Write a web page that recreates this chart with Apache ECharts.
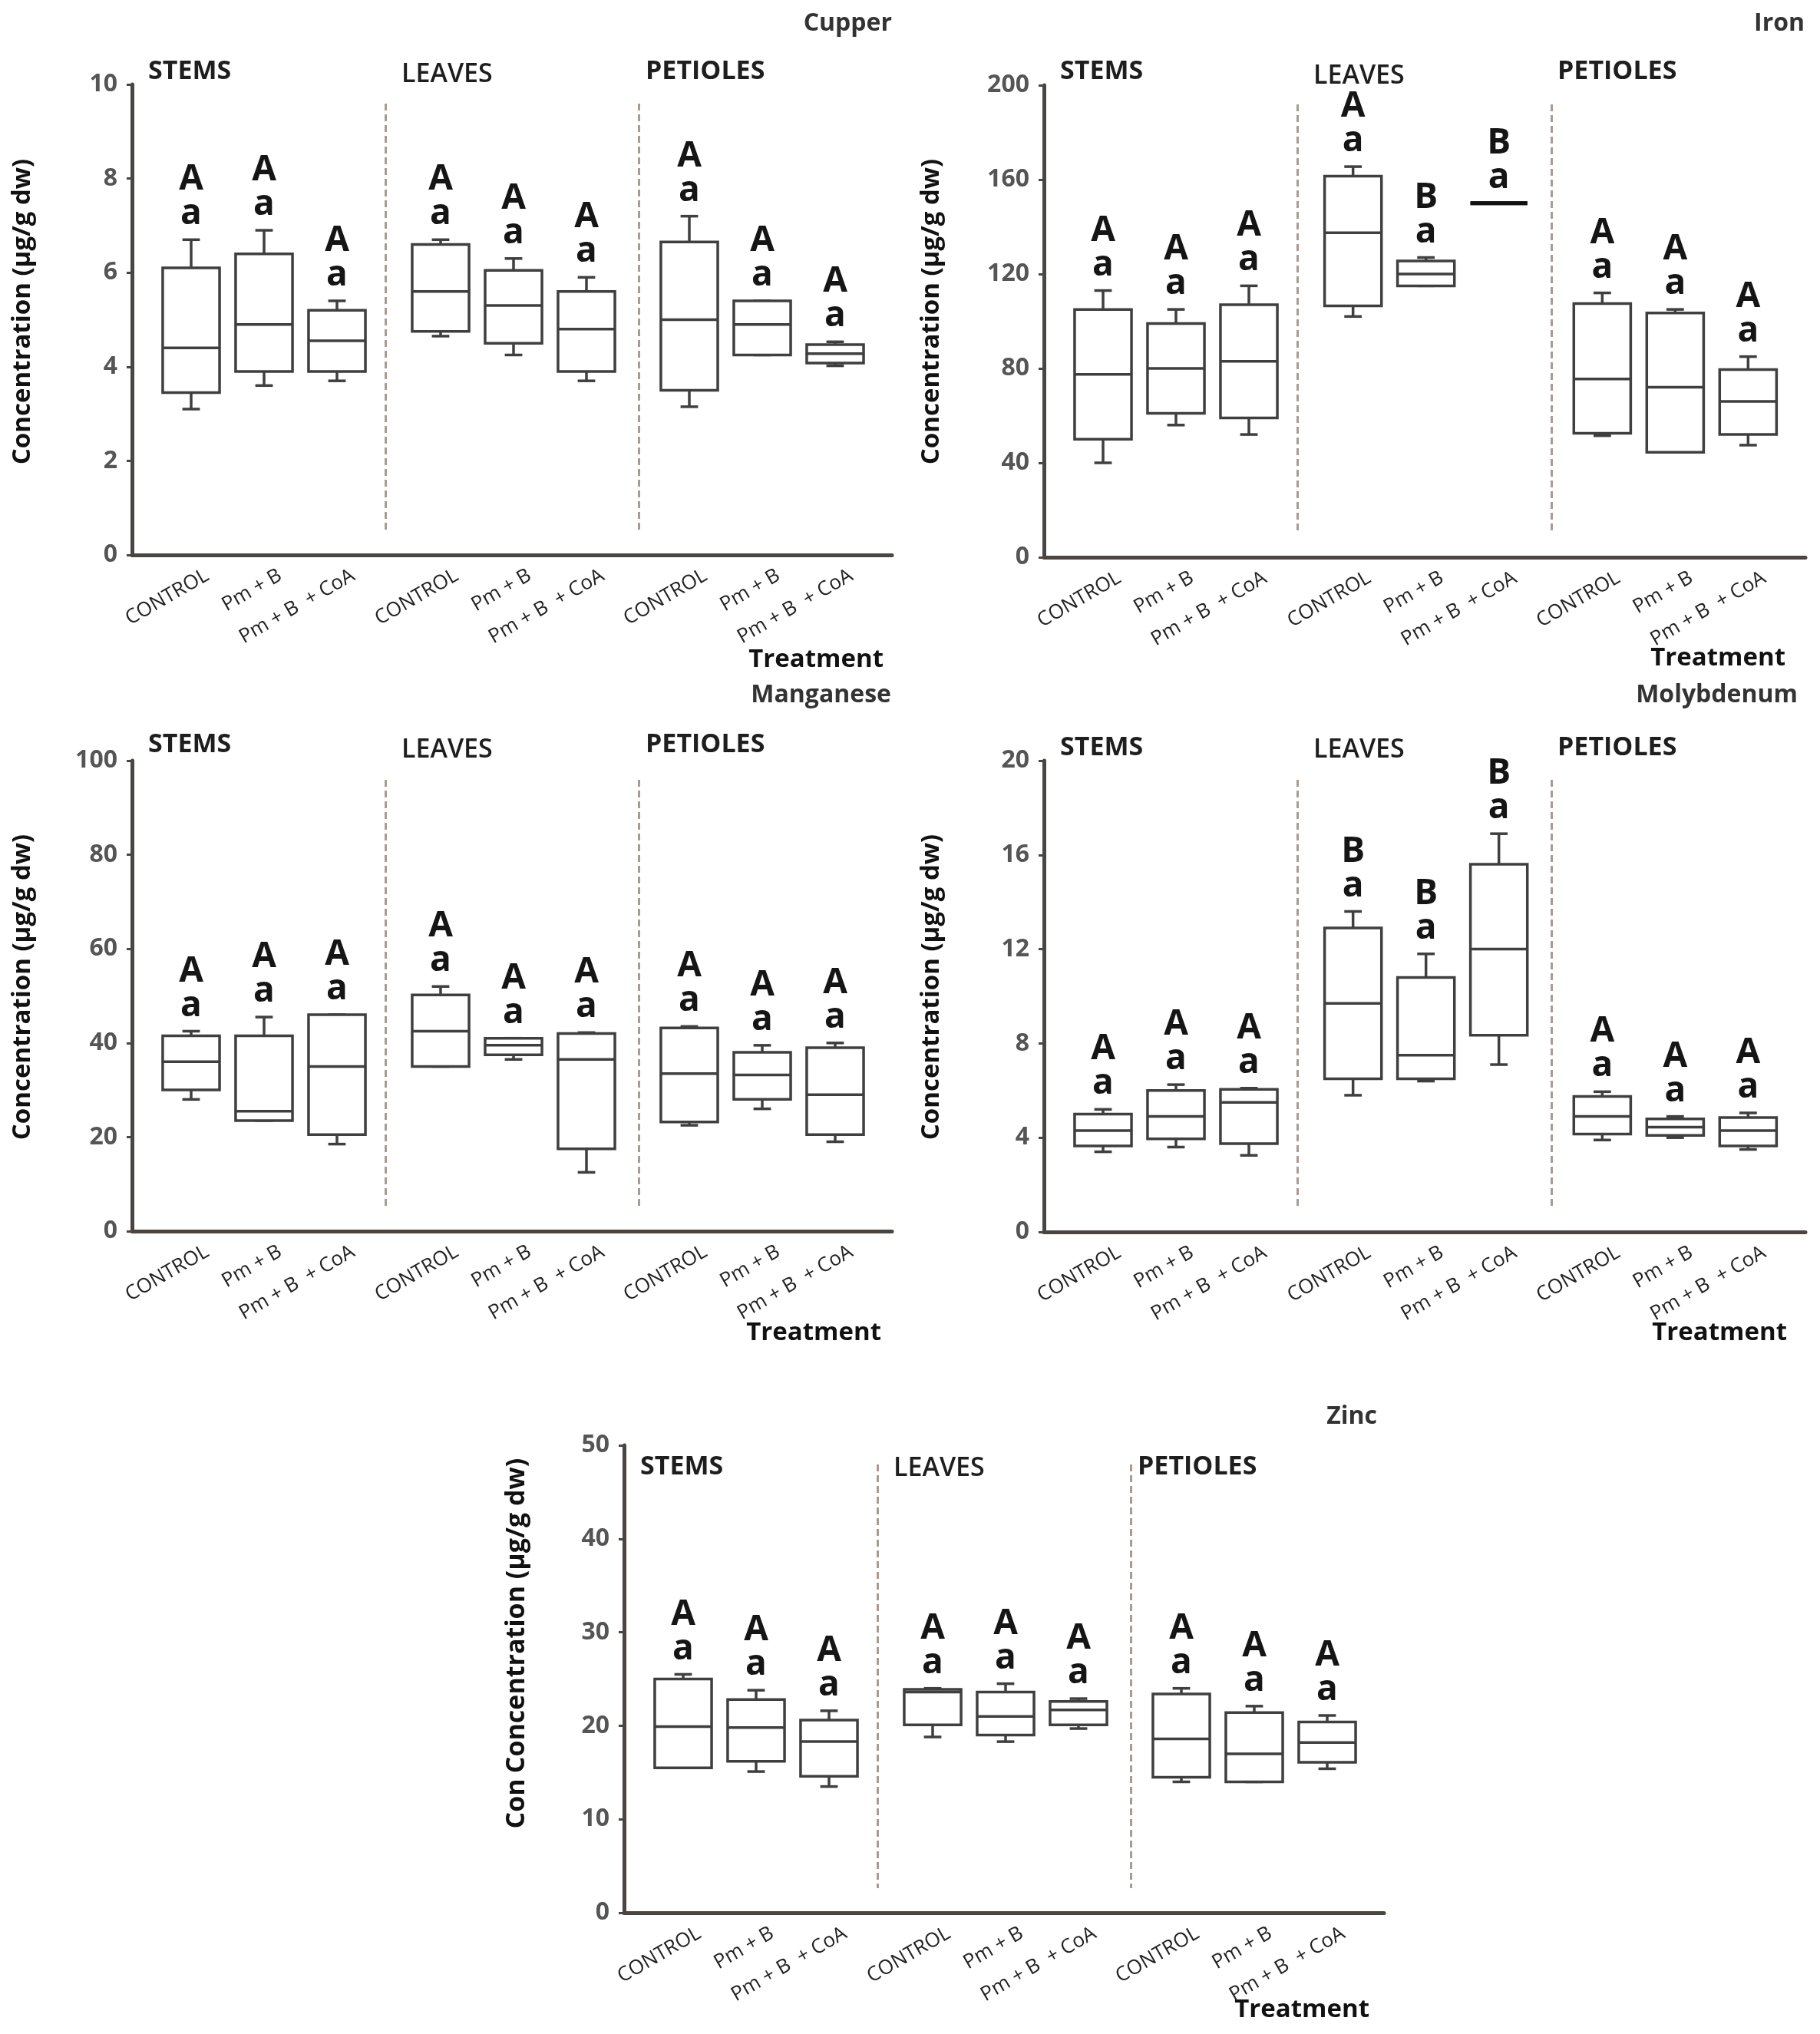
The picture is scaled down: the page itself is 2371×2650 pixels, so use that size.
<!DOCTYPE html>
<html><head><meta charset="utf-8">
<script src="https://cdn.jsdelivr.net/npm/echarts@6/dist/echarts.min.js"></script>
<style>html,body{margin:0;padding:0;background:#fff}#c{width:2371px;height:2650px}</style>
</head><body><div id="c"></div>
<script>
// ---------------- DATA ----------------
const organs = ['STEMS', 'LEAVES', 'PETIOLES'];
const treatments = ['CONTROL', 'Pm + B', 'Pm + B  + CoA'];
const panelTitles = ['Cupper', 'Iron', 'Manganese', 'Molybdenum', 'Zinc'];

// each box: [min, Q1, median, Q3, max]
const cuStems    = [[3.1, 3.45, 4.4, 6.1, 6.7], [3.6, 3.9, 4.9, 6.4, 6.9], [3.7, 3.9, 4.55, 5.2, 5.4]];
const cuLeaves   = [[4.65, 4.75, 5.6, 6.6, 6.7], [4.25, 4.5, 5.3, 6.05, 6.3], [3.7, 3.9, 4.8, 5.6, 5.9]];
const cuPetioles = [[3.15, 3.5, 5.0, 6.65, 7.2], [4.25, 4.25, 4.9, 5.4, 5.4], [4.02, 4.08, 4.28, 4.47, 4.53]];

const feStems    = [[40, 50, 77.5, 105, 113], [56, 61, 80, 99, 105], [52, 59, 83, 107, 115]];
const feLeaves   = [[102, 106.5, 137.5, 161.5, 165.5], [115, 115, 120, 125.5, 127], [150, 150, 150, 150, 150]];
const fePetioles = [[51.5, 52.5, 75.5, 107.5, 112], [44.5, 44.5, 72, 103.5, 105], [47.5, 52, 66, 79.5, 85]];

const mnStems    = [[28, 30, 36, 41.5, 42.5], [23.5, 23.5, 25.5, 41.5, 45.5], [18.5, 20.5, 35, 46, 46]];
const mnLeaves   = [[35, 35, 42.5, 50.2, 52], [36.5, 37.5, 39.5, 41, 41], [12.5, 17.5, 36.5, 42, 42.2]];
const mnPetioles = [[22.5, 23.2, 33.5, 43.2, 43.5], [26, 28, 33.2, 38, 39.5], [19, 20.5, 29, 39, 40]];

const moStems    = [[3.4, 3.65, 4.3, 5.0, 5.2], [3.6, 3.95, 4.9, 6.0, 6.25], [3.25, 3.75, 5.5, 6.05, 6.1]];
const moLeaves   = [[5.8, 6.5, 9.7, 12.9, 13.6], [6.4, 6.5, 7.5, 10.8, 11.8], [7.1, 8.35, 12, 15.6, 16.9]];
const moPetioles = [[3.9, 4.15, 4.9, 5.75, 5.95], [4.0, 4.1, 4.45, 4.8, 4.9], [3.5, 3.65, 4.3, 4.85, 5.05]];

const znStems    = [[15.5, 15.5, 19.9, 25, 25.5], [15.1, 16.2, 19.8, 22.8, 23.8], [13.5, 14.6, 18.3, 20.6, 21.6]];
const znLeaves   = [[18.8, 20.1, 23.6, 23.9, 24], [18.3, 19, 21, 23.6, 24.5], [19.7, 20.1, 21.7, 22.6, 22.9]];
const znPetioles = [[14, 14.5, 18.6, 23.4, 24], [14, 14, 17, 21.4, 22.1], [15.4, 16.1, 18.2, 20.4, 21.1]];

// significance letters (upper line / lower line), per organ
const cuUpper = [['A', 'A', 'A'], ['A', 'A', 'A'], ['A', 'A', 'A']];
const feUpper = [['A', 'A', 'A'], ['A', 'B', 'B'], ['A', 'A', 'A']];
const mnUpper = [['A', 'A', 'A'], ['A', 'A', 'A'], ['A', 'A', 'A']];
const moUpper = [['A', 'A', 'A'], ['B', 'B', 'B'], ['A', 'A', 'A']];
const znUpper = [['A', 'A', 'A'], ['A', 'A', 'A'], ['A', 'A', 'A']];
const allLower = [['a', 'a', 'a'], ['a', 'a', 'a'], ['a', 'a', 'a']];

// y-axis tick labels
const cuTicks = [0, 2, 4, 6, 8, 10];
const feTicks = [0, 40, 80, 120, 160, 200];
const mnTicks = [0, 20, 40, 60, 80, 100];
const moTicks = [0, 4, 8, 12, 16, 20];
const znTicks = [0, 10, 20, 30, 40, 50];

// ---------------- LAYOUT ----------------
const FONT = '"Open Sans", "Noto Sans", sans-serif';
const AXIS_COLOR = '#4a4540';
const BOX_COLOR = '#3f3f3f';
const panels = [
  { title: panelTitles[0], data: [cuStems, cuLeaves, cuPetioles], upper: cuUpper, ticks: cuTicks,
    x0: 172, T: 110, B: 723, W: 990, titleX: 1162, titleY: 31, secY: [93, 97, 93],
    treatX: 1151, treatY: 860, nameX: 30, nameY: 406 },
  { title: panelTitles[1], data: [feStems, feLeaves, fePetioles], upper: feUpper, ticks: feTicks,
    x0: 1360, T: 111, B: 726, W: 992, titleX: 2351, titleY: 31, secY: [93, 99, 93],
    treatX: 2326, treatY: 858, nameX: 1214, nameY: 406 },
  { title: panelTitles[2], data: [mnStems, mnLeaves, mnPetioles], upper: mnUpper, ticks: mnTicks,
    x0: 172, T: 991, B: 1604, W: 990, titleX: 1161, titleY: 906, secY: [970, 977, 970],
    treatX: 1148, treatY: 1737, nameX: 30, nameY: 1286 },
  { title: panelTitles[3], data: [moStems, moLeaves, moPetioles], upper: moUpper, ticks: moTicks,
    x0: 1360, T: 991, B: 1605, W: 992, titleX: 2342, titleY: 906, secY: [974, 977, 974],
    treatX: 2328, treatY: 1737, nameX: 1214, nameY: 1286 },
  { title: panelTitles[4], data: [znStems, znLeaves, znPetioles], upper: znUpper, ticks: znTicks,
    x0: 813, T: 1883, B: 2492, W: 990, titleX: 1794, titleY: 1846, secY: [1911, 1913, 1911],
    treatX: 1784, treatY: 2619, nameX: 673, nameY: 2105, zinc: true }
];
const BAND = 95;
const FIRST_CENTER = [77, 72, 66];
const SEC_X = [21, 351, 669];

function makeRender(upper, lower) {
  return function (params, api) {
    const c = api.value(0);
    const p = [1, 2, 3, 4, 5].map(i => api.coord([c, api.value(i)]));
    const band = api.size([1, 0])[0];
    const x = p[0][0];
    const hw = band * 0.39, cw = band * 0.12;
    const st = { stroke: BOX_COLOR, lineWidth: 3.5, fill: null };
    const idx = params.dataIndex;
    const flat = (p[1][1] - p[3][1]) < 1;
    return {
      type: 'group',
      children: [
        { type: 'line', shape: { x1: x, y1: p[4][1], x2: x, y2: p[3][1] }, style: st },
        { type: 'line', shape: { x1: x, y1: p[1][1], x2: x, y2: p[0][1] }, style: st },
        { type: 'line', shape: { x1: x - cw, y1: p[4][1], x2: x + cw, y2: p[4][1] }, style: st },
        { type: 'line', shape: { x1: x - cw, y1: p[0][1], x2: x + cw, y2: p[0][1] }, style: st },
        { type: 'rect', shape: { x: x - hw, y: p[3][1], width: 2 * hw, height: p[1][1] - p[3][1] },
          style: { stroke: flat ? '#111' : BOX_COLOR, lineWidth: flat ? 5 : 3.5, fill: '#fff' } },
        { type: 'line', shape: { x1: x - hw, y1: p[2][1], x2: x + hw, y2: p[2][1] },
          style: { stroke: flat ? '#111' : BOX_COLOR, lineWidth: flat ? 5 : 3.5 } },
        { type: 'text', style: { text: upper[idx], x: x, y: p[4][1] - 78, align: 'center', verticalAlign: 'middle',
          font: 'bold 46px ' + FONT, fill: '#151515' } },
        { type: 'text', style: { text: lower[idx], x: x, y: p[4][1] - 33, align: 'center', verticalAlign: 'middle',
          font: 'bold 46px ' + FONT, fill: '#151515' } }
      ]
    };
  };
}

const grid = [], xAxis = [], yAxis = [], series = [], graphic = [];

panels.forEach(pn => {
  const H = pn.B - pn.T;
  const ymin = pn.ticks[0], ymax = pn.ticks[pn.ticks.length - 1];
  const interval = pn.ticks[1] - pn.ticks[0];

  // frame grid with visible axes
  const fi = grid.length;
  grid.push({ left: pn.x0, top: pn.T, width: pn.W, height: H });
  xAxis.push({ gridIndex: fi, type: 'value', min: 0, max: 3,
    axisLine: { show: true, lineStyle: { color: AXIS_COLOR, width: 5 } },
    axisTick: { show: false }, axisLabel: { show: false }, splitLine: { show: false } });
  yAxis.push({ gridIndex: fi, type: 'value', min: ymin, max: ymax, interval: interval,
    axisLine: { show: true, lineStyle: { color: AXIS_COLOR, width: 5 } },
    axisTick: { show: true, length: 7, lineStyle: { color: AXIS_COLOR, width: 3 } },
    axisLabel: { fontFamily: FONT, fontWeight: 'bold', fontSize: 32, color: '#555', margin: 19 },
    splitLine: { show: false } });
  const yTop = ymax * (1 - 25 / H), yBot = ymax * (32 / H);
  series.push({ type: 'line', xAxisIndex: fi, yAxisIndex: fi, data: [], silent: true,
    markLine: { symbol: 'none', silent: true, animation: false, label: { show: false },
      lineStyle: { type: [9, 5], color: '#a89c92', width: 3 },
      data: [[{ coord: [1, yTop] }, { coord: [1, yBot] }], [{ coord: [2, yTop] }, { coord: [2, yBot] }]] } });

  organs.forEach((org, g) => {
    const left = pn.x0 + g * pn.W / 3 + FIRST_CENTER[g] - BAND / 2;
    // box grid
    const bi = grid.length;
    grid.push({ left: left, top: pn.T, width: 3 * BAND, height: H });
    xAxis.push({ gridIndex: bi, type: 'category', data: treatments, show: false });
    yAxis.push({ gridIndex: bi, type: 'value', min: ymin, max: ymax, show: false });
    series.push({ type: 'custom', xAxisIndex: bi, yAxisIndex: bi, silent: true, clip: false,
      renderItem: makeRender(pn.upper[g], allLower[g]),
      encode: { x: 0, y: [1, 2, 3, 4, 5] },
      data: pn.data[g].map((d, i) => [i].concat(d)) });
    // label grid (category labels)
    const li = grid.length;
    grid.push({ left: left + 21, top: pn.T, width: 3 * BAND, height: H });
    xAxis.push({ gridIndex: li, type: 'category', data: treatments,
      axisLine: { show: false }, axisTick: { show: false },
      axisLabel: { interval: 0, rotate: 30, margin: 25, fontSize: 26, fontFamily: FONT, color: '#222' } });
    yAxis.push({ gridIndex: li, type: 'value', min: 0, max: 1, show: false });

    graphic.push({ type: 'text', x: pn.x0 + SEC_X[g], y: pn.secY[g],
      style: { text: org, font: (g === 1 ? '600 ' : 'bold ') + '34px ' + FONT, fill: '#1e1e1e',
        align: 'left', verticalAlign: 'middle' } });
  });

  graphic.push({ type: 'text', x: pn.titleX, y: pn.titleY,
    style: { text: pn.title, font: 'bold 32px ' + FONT, fill: '#333', align: 'right', verticalAlign: 'middle' } });
  graphic.push({ type: 'text', x: pn.treatX, y: pn.treatY,
    style: { text: 'Treatment', font: 'bold 33px ' + FONT, fill: '#111', align: 'right', verticalAlign: 'middle' } });
  if (pn.zinc) {
    graphic.push({ type: 'text', x: pn.nameX, y: pn.nameY, rotation: Math.PI / 2,
      style: { text: 'Concentration (µg/g dw)', font: 'bold 34px ' + FONT, fill: '#111', align: 'center', verticalAlign: 'middle' } });
    graphic.push({ type: 'text', x: pn.nameX, y: 2350, rotation: Math.PI / 2,
      style: { text: 'Con', font: 'bold 34px ' + FONT, fill: '#111', align: 'center', verticalAlign: 'middle' } });
  } else {
    graphic.push({ type: 'text', x: pn.nameX, y: pn.nameY, rotation: Math.PI / 2,
      style: { text: 'Concentration (µg/g dw)', font: 'bold 33px ' + FONT, fill: '#111', align: 'center', verticalAlign: 'middle' } });
  }
});

const chart = echarts.init(document.getElementById('c'), null, { renderer: 'canvas' });
chart.setOption({
  backgroundColor: '#fff',
  animation: false,
  grid: grid, xAxis: xAxis, yAxis: yAxis, series: series,
  graphic: graphic
});
</script></body></html>
